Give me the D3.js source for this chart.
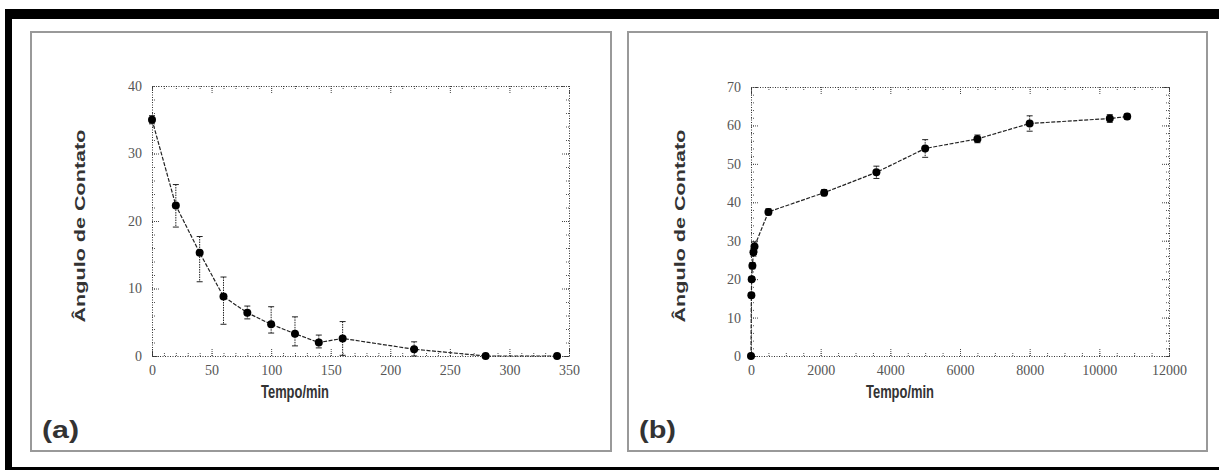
<!DOCTYPE html>
<html>
<head>
<meta charset="utf-8">
<script src="https://cdn.jsdelivr.net/npm/d3@7"></script>
<style>
  body { margin: 0; background: #fff; }
  .lbl { font-family: "Liberation Sans", Arial, sans-serif; font-weight: bold; fill: #333; }
  svg g.tick text { font-family: "Liberation Serif", "Times New Roman", serif !important; }
</style>
</head>
<body>
<svg width="1219" height="470"></svg>
<script>
// (a) contact angle vs time
const tempoA = [0, 20, 40, 60, 80, 100, 120, 140, 160, 220, 280, 340]
const anguloA = [35, 22.3, 15.3, 8.8, 6.4, 4.7, 3.3, 2.0, 2.6, 1.0, 0, 0]
const erroSupA = [0.6, 3.1, 2.4, 2.9, 1.0, 2.6, 2.5, 1.1, 2.5, 1.1, 0, 0]
const erroInfA = [0.6, 3.2, 4.3, 4.1, 0.9, 1.3, 1.8, 0.8, 2.5, 1.0, 0, 0]

// (b)
const tempoB = [0, 10, 20, 40, 70, 100, 500, 2100, 3600, 5000, 6500, 8000, 10300, 10800]
const anguloB = [0, 15.8, 20, 23.5, 27, 28.5, 37.5, 42.5, 47.8, 54, 56.5, 60.5, 61.8, 62.3]
const erroB = [0, 0.6, 0.6, 0.8, 1, 1.2, 0.8, 0.8, 1.6, 2.3, 1, 2, 1, 0.7]

const ticksXA = [0, 50, 100, 150, 200, 250, 300, 350]
const ticksYA = [0, 10, 20, 30, 40]
const ticksXB = [0, 2000, 4000, 6000, 8000, 10000, 12000]
const ticksYB = [0, 10, 20, 30, 40, 50, 60, 70]

const svg = d3.select('svg')

// outer frame
svg.append('rect').attr('x', 0).attr('y', 0).attr('width', 1219).attr('height', 470).attr('fill', '#fff')
svg.append('rect').attr('x', 5).attr('y', 9).attr('width', 1214).attr('height', 10).attr('fill', '#000')
svg.append('rect').attr('x', 5).attr('y', 9).attr('width', 7).attr('height', 461).attr('fill', '#000')
svg.append('rect').attr('x', 5).attr('y', 467).attr('width', 1214).attr('height', 3).attr('fill', '#000')

function drawPanel(o) {
    const g = svg.append('g')

    g.append('rect')
        .attr('x', o.box[0]).attr('y', 32)
        .attr('width', o.box[1] - o.box[0]).attr('height', 451 - 32)
        .attr('fill', '#fff').attr('stroke', '#999').attr('stroke-width', 2)

    const x = d3.scaleLinear().domain(o.xDom).range(o.xRange)
    const y = d3.scaleLinear().domain(o.yDom).range([356, o.yTop])

    const minorX = d3.range(o.xDom[0], o.xDom[1] + 1e-9, o.xMinor)
    const minorY = d3.range(o.yDom[0], o.yDom[1] + 1e-9, o.yMinor)
    const mk = [() => d3.axisBottom(x), () => d3.axisTop(x), () => d3.axisLeft(y), () => d3.axisRight(y)]
    const pos = ['translate(0,356)', `translate(0,${o.yTop})`, `translate(${o.xRange[0]},0)`, `translate(${o.xRange[1]},0)`]

    mk.forEach(function (make, i) {
        const minor = i < 2 ? minorX : minorY
        const major = i < 2 ? o.ticksX : o.ticksY
        g.append('g').attr('transform', pos[i])
            .call(make().tickValues(minor).tickSize(-3).tickFormat(''))
            .call(s => s.select('.domain').remove())
            .selectAll('line').attr('stroke', '#555').attr('stroke-dasharray', '1,1')
        const ax = g.append('g').attr('transform', pos[i])
            .attr('font-family', 'Liberation Serif')
            .call(make().tickValues(major).tickSize(-7).tickPadding(i < 2 ? 9 : 10)
                .tickFormat(i == 0 || i == 2 ? d3.format('d') : ''))
        ax.attr('font-family', 'Liberation Serif').attr('font-size', 14)
        ax.select('.domain').attr('stroke', '#333').attr('stroke-dasharray', '1,1.5')
        ax.selectAll('line').attr('stroke', '#444').attr('stroke-dasharray', '1,1')
        ax.selectAll('text')
            .style('font-family', 'Liberation Serif')
            .style('font-size', '14px').attr('fill', '#555')
    })

    const pts = o.t.map((t, i) => ({ t: t, v: o.v[i], hi: o.hi[i], lo: o.lo[i] }))

    // error bars
    const eb = g.append('g').attr('stroke', '#222').attr('stroke-width', 1)
    pts.filter(d => d.hi > 0 || d.lo > 0).forEach(function (d) {
        eb.append('line').attr('x1', x(d.t)).attr('x2', x(d.t))
            .attr('y1', y(d.v + d.hi)).attr('y2', y(d.v - d.lo))
            .attr('stroke-dasharray', '1.5,1')
        ;[d.v + d.hi, d.v - d.lo].forEach(function (e) {
            eb.append('line').attr('x1', x(d.t) - 3).attr('x2', x(d.t) + 3)
                .attr('y1', y(e)).attr('y2', y(e))
        })
    })

    const line = d3.line().x(d => x(d.t)).y(d => y(d.v))
    g.append('path').datum(pts).attr('d', line)
        .attr('fill', 'none').attr('stroke', '#222').attr('stroke-width', 1.2)
        .attr('stroke-dasharray', '4,1.5')

    g.selectAll('circle.pt').data(pts).enter().append('circle')
        .attr('class', 'pt')
        .attr('cx', d => x(d.t)).attr('cy', d => y(d.v)).attr('r', 4)
        .attr('fill', '#000')

    // labels
    g.append('text').attr('class', 'lbl')
        .attr('transform', `translate(${o.yLblX},226) rotate(-90)`)
        .attr('text-anchor', 'middle').attr('dy', '0.35em')
        .attr('font-size', 15.5).attr('textLength', 193).attr('lengthAdjust', 'spacingAndGlyphs')
        .text('Ângulo de Contato')
    g.append('text').attr('class', 'lbl')
        .attr('x', o.xLblX).attr('y', 398).attr('text-anchor', 'middle')
        .attr('font-size', 18).attr('textLength', 68).attr('lengthAdjust', 'spacingAndGlyphs')
        .text('Tempo/min')
    g.append('text').attr('class', 'lbl')
        .attr('x', o.box[0] + 11).attr('y', 438)
        .attr('font-size', 24).attr('textLength', 37).attr('lengthAdjust', 'spacingAndGlyphs')
        .attr('style', 'font-weight:600')
        .text(o.tag)
}

drawPanel({
    box: [31, 611], xDom: [0, 350], xRange: [152, 569], yDom: [0, 40], yTop: 86,
    ticksX: ticksXA, ticksY: ticksYA, xMinor: 10, yMinor: 2,
    t: tempoA, v: anguloA, hi: erroSupA, lo: erroInfA,
    yLblX: 80, xLblX: 295, tag: '(a)'
})
drawPanel({
    box: [628, 1207], xDom: [0, 12000], xRange: [751, 1169], yDom: [0, 70], yTop: 87,
    ticksX: ticksXB, ticksY: ticksYB, xMinor: 500, yMinor: 2,
    t: tempoB, v: anguloB, hi: erroB, lo: erroB,
    yLblX: 680, xLblX: 900, tag: '(b)'
})
</script>
</body>
</html>
